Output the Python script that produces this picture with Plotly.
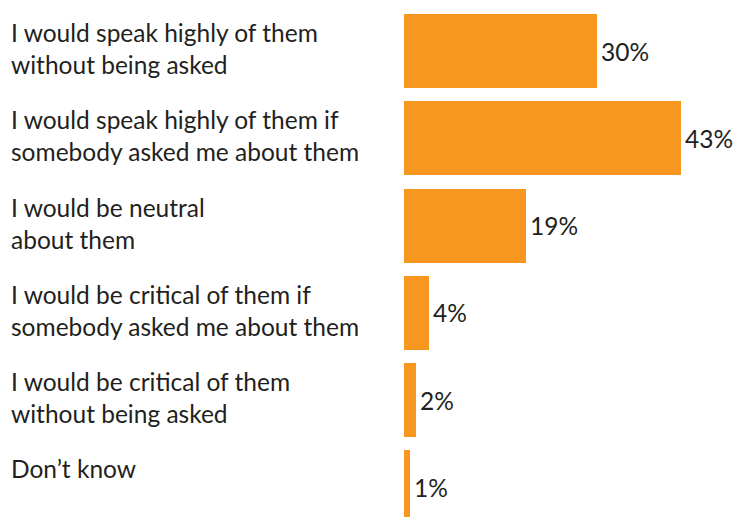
import plotly.graph_objects as go

categories = [
    "I would speak highly of them<br>without being asked",
    "I would speak highly of them if<br>somebody asked me about them",
    "I would be neutral<br>about them",
    "I would be critical of them if<br>somebody asked me about them",
    "I would be critical of them<br>without being asked",
    "Don\u2019t know",
]
values = [30, 43, 19, 4, 2, 1]
value_labels = ["30%", "43%", "19%", "4%", "2%", "1%"]

ORANGE = "#F7971F"
TEXT = "#231F20"
FONT = "Lato"
FS = 24.5

px_per_unit = 6.45
x0_px = 403.5
W, H = 737, 517
pitch = 87.3
first_center = 51.0

positions = list(range(len(values)))

fig = go.Figure()
fig.add_trace(go.Bar(
    x=values, y=positions, orientation="h",
    marker=dict(color=ORANGE, line=dict(width=0)),
    width=0.848,
    hoverinfo="skip",
))

xmin = -x0_px / px_per_unit
xmax = (W - x0_px) / px_per_unit
ytop = -first_center / pitch
ybot = (H - first_center) / pitch

for i, c in enumerate(categories):
    fig.add_annotation(
        x=xmin, y=i - 0.424, xref="x", yref="y",
        text=c, showarrow=False, xanchor="left", yanchor="top", align="left",
        font=dict(family=FONT, size=FS, color=TEXT), xshift=9, yshift=-2,
    )

for i, (v, t) in enumerate(zip(values, value_labels)):
    fig.add_annotation(
        x=v, y=i, xref="x", yref="y",
        text=t, showarrow=False, xanchor="left", yanchor="middle",
        font=dict(family=FONT, size=FS, color=TEXT), xshift=2,
    )

fig.update_layout(
    width=W, height=H,
    margin=dict(l=0, r=0, t=0, b=0),
    plot_bgcolor="white", paper_bgcolor="white",
    showlegend=False,
    xaxis=dict(range=[xmin, xmax], visible=False, fixedrange=True),
    yaxis=dict(range=[ybot, ytop], visible=False, fixedrange=True),
    bargap=0,
)

fig.write_html("out.html", config={"displayModeBar": False})
